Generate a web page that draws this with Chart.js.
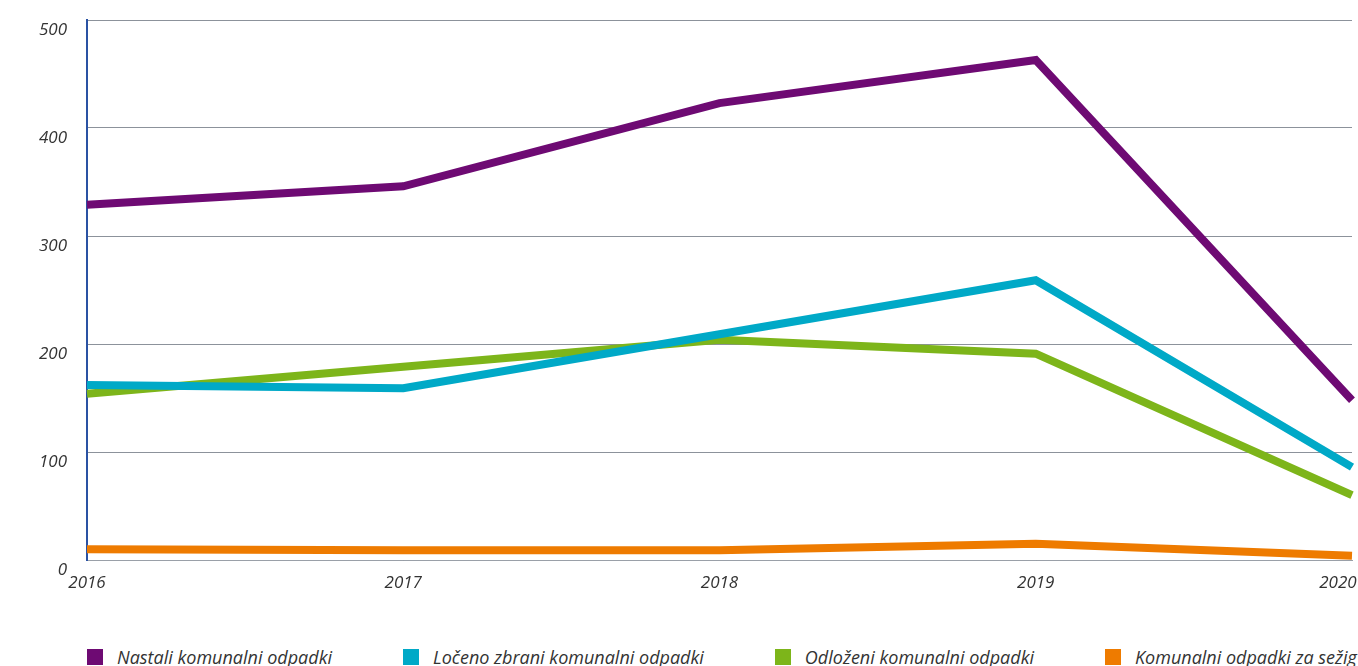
<!DOCTYPE html>
<html>
<head>
<meta charset="utf-8">
<script src="https://cdn.jsdelivr.net/npm/chart.js@4"></script>
<style>
  html, body { margin: 0; padding: 0; background: #fff; overflow: hidden; }
  #wrap { position: relative; width: 1358px; height: 610px; }
  #legend {
    display: flex; gap: 71px; margin: 35px 0 0 87px;
    white-space: nowrap; overflow: hidden; width: 1271px;
    font: italic 18px "Open Sans", sans-serif; color: #333;
  }
  #legend span.item { display: flex; align-items: center; }
  #legend i { display: inline-block; width: 16px; height: 16px; margin-right: 14px; }
</style>
</head>
<body>
<div id="wrap"><canvas id="myChart"></canvas></div>
<div id="legend"></div>
<script>
const years = ['2016', '2017', '2018', '2019', '2020'];
const nastali = [329, 346, 423, 463, 148];
const loceno = [162, 159, 209, 259, 86];
const odlozeni = [154, 179, 204, 191, 60];
const sezig = [10, 9, 9, 15, 4];
const yTicks = [0, 100, 200, 300, 400, 500];

const series = [
  { label: 'Nastali komunalni odpadki', data: nastali, color: '#6e0a73' },
  { label: 'Ločeno zbrani komunalni odpadki', data: loceno, color: '#00a9c7' },
  { label: 'Odloženi komunalni odpadki', data: odlozeni, color: '#7db51a' },
  { label: 'Komunalni odpadki za sežig', data: sezig, color: '#ee7b00' }
];

const tickFont = { family: 'Open Sans', style: 'italic', size: 17 };

// draw order: orange at the back, purple on top
const datasets = series.map((s, i) => ({
  label: s.label,
  data: s.data,
  borderColor: s.color,
  backgroundColor: s.color,
  borderWidth: 8,
  pointRadius: 0,
  tension: 0,
  borderJoinStyle: 'miter',
  order: i
}));

const config = {
  type: 'line',
  data: { labels: years, datasets: datasets },
  options: {
    responsive: true,
    maintainAspectRatio: false,
    animation: false,
    layout: { padding: { top: 20, right: 6, bottom: 17, left: 0 } },
    plugins: { legend: { display: false }, tooltip: { enabled: false } },
    scales: {
      x: {
        grid: { display: false, drawTicks: false },
        border: { color: '#9aa0a8', width: 1 },
        ticks: {
          font: tickFont,
          color: '#333',
          padding: 13,
          maxRotation: 0,
          // nudge the last year left so it stays on the canvas
          callback: (v, i) => i === years.length - 1 ? years[i] + '\u2007\u2007\u2007' : years[i]
        },
        afterFit: s => { s.height = 33; s.paddingLeft = 0; s.paddingRight = 0; }
      },
      y: {
        min: 0,
        max: 500,
        afterBuildTicks: s => { s.ticks = yTicks.map(v => ({ value: v })); },
        grid: { color: '#8c929b', lineWidth: 1, drawTicks: false },
        border: { color: '#2a52a3', width: 2 },
        ticks: { font: tickFont, color: '#333', padding: 20, labelOffset: 10 },
        afterFit: s => { s.width = 87; s.paddingTop = 0; s.paddingBottom = 0; }
      }
    }
  }
};

const myChart = new Chart(document.getElementById('myChart'), config);

const legend = document.getElementById('legend');
series.forEach(s => {
  const item = document.createElement('span');
  item.className = 'item';
  const box = document.createElement('i');
  box.style.background = s.color;
  item.appendChild(box);
  item.appendChild(document.createTextNode(s.label));
  legend.appendChild(item);
});
</script>
</body>
</html>
